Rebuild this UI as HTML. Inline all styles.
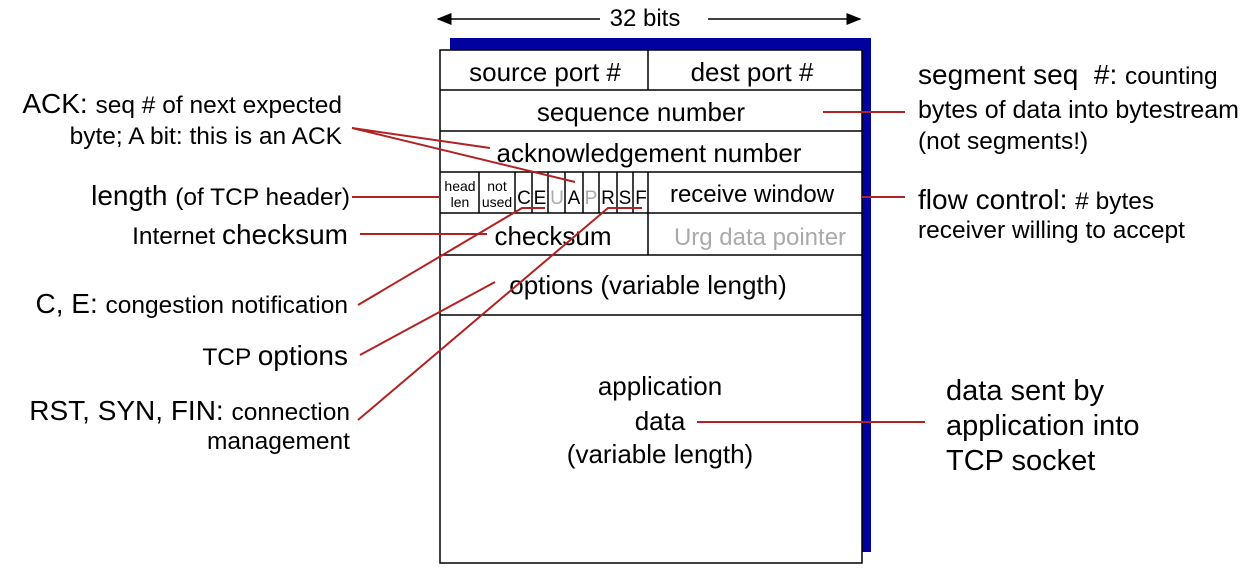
<!DOCTYPE html>
<html><head><style>
body{margin:0;background:#fff;width:1244px;height:572px;overflow:hidden;position:relative;font-family:"Liberation Sans",sans-serif}
.t{position:absolute;white-space:nowrap;color:#000;line-height:34px}
.b{font-size:28px}.s{font-size:24.5px}
</style></head><body>
<svg width="1244" height="572" style="position:absolute;left:0;top:0" font-family="Liberation Sans, sans-serif">
<defs><marker id="ar" markerWidth="10" markerHeight="8" refX="9" refY="4" orient="auto"><path d="M0,0L10,4L0,8z" fill="#000"/></marker></defs>
<line x1="600" y1="19" x2="438" y2="19" stroke="#000" stroke-width="1.5" marker-end="url(#ar)"/>
<line x1="708" y1="19" x2="860" y2="19" stroke="#000" stroke-width="1.5" marker-end="url(#ar)"/>
<text x="645" y="26" font-size="24" text-anchor="middle">32 bits</text>
<rect x="450" y="38" width="421" height="514" fill="#00009c"/>
<rect x="440" y="50" width="422" height="513" fill="#fff" stroke="#000" stroke-width="1.5"/>
<g stroke="#000" stroke-width="1.5">
<line x1="440" y1="90" x2="862" y2="90"/><line x1="440" y1="131" x2="862" y2="131"/>
<line x1="440" y1="172" x2="862" y2="172"/><line x1="440" y1="213" x2="862" y2="213"/>
<line x1="440" y1="255" x2="862" y2="255"/><line x1="440" y1="315" x2="862" y2="315"/>
<line x1="648" y1="50" x2="648" y2="90"/><line x1="648" y1="172" x2="648" y2="255"/>
<line x1="479" y1="172" x2="479" y2="213"/><line x1="515" y1="172" x2="515" y2="213"/>
<line x1="532" y1="172" x2="532" y2="213"/><line x1="548" y1="172" x2="548" y2="213"/>
<line x1="565" y1="172" x2="565" y2="213"/><line x1="583" y1="172" x2="583" y2="213"/>
<line x1="599" y1="172" x2="599" y2="213"/><line x1="617" y1="172" x2="617" y2="213"/>
<line x1="633" y1="172" x2="633" y2="213"/>
</g>
<g font-size="26" text-anchor="middle">
<text x="545" y="81">source port #</text><text x="752" y="81">dest port #</text>
<text x="641" y="121">sequence number</text>
<text x="649" y="162">acknowledgement number</text>
<text x="752" y="202" font-size="24">receive window</text>
<text x="553" y="245">checksum</text>
<text x="760" y="245" fill="#aaa" font-size="24">Urg data pointer</text>
<text x="648" y="294">options (variable length)</text>
<text x="660" y="395">application</text><text x="660" y="430">data</text>
<text x="660" y="463">(variable length)</text>
<text x="460" y="191" font-size="14">head</text><text x="460" y="207" font-size="14">len</text>
<text x="497" y="191" font-size="14">not</text><text x="497" y="207" font-size="14">used</text>
<g font-size="19"><text x="524" y="204">C</text><text x="540" y="204">E</text><text x="557" y="204" fill="#aaa">U</text><text x="574" y="204">A</text><text x="591" y="204" fill="#aaa">P</text><text x="608" y="204">R</text><text x="625" y="204">S</text><text x="641" y="204">F</text></g>
</g>
<g stroke="#b22222" stroke-width="2" fill="none">
<polyline points="490,148 352,128 575,182"/>
<line x1="352" y1="197" x2="440" y2="197"/>
<line x1="360" y1="234" x2="487" y2="234"/>
<polyline points="358,305 522,208 545,208"/>
<line x1="360" y1="355" x2="495" y2="282"/>
<polyline points="358,420 608,208 642,208"/>
<line x1="823" y1="112" x2="905" y2="112"/>
<line x1="862" y1="197" x2="905" y2="197"/>
<line x1="697" y1="422" x2="925" y2="422"/>
</g>
</svg>
<div class="t b" style="right:902px;top:87px">ACK: <span class="s">seq # of next expected</span></div>
<div class="t s" style="right:902px;top:120px">byte; A bit: this is an ACK</div>
<div class="t b" style="right:894px;top:179px">length <span class="s">(of TCP header)</span></div>
<div class="t b" style="right:896px;top:218px"><span class="s">Internet </span>checksum</div>
<div class="t b" style="right:896px;top:287px">C, E: <span class="s">congestion notification</span></div>
<div class="t b" style="right:896px;top:339px"><span class="s">TCP </span>options</div>
<div class="t b" style="right:894px;top:394px">RST, SYN, FIN: <span class="s">connection</span></div>
<div class="t s" style="right:894px;top:425px">management</div>
<div class="t b" style="left:918px;top:58px">segment seq &nbsp;#: <span class="s">counting</span></div>
<div class="t s" style="left:918px;top:93px;font-size:25px">bytes of data into bytestream</div>
<div class="t s" style="left:918px;top:125px">(not segments!)</div>
<div class="t b" style="left:918px;top:183px">flow control: <span class="s"># bytes</span></div>
<div class="t s" style="left:918px;top:214px">receiver willing to accept</div>
<div class="t b" style="left:946px;top:374px;line-height:35px;font-size:29px">data sent by<br>application into<br>TCP socket</div>
</body></html>
